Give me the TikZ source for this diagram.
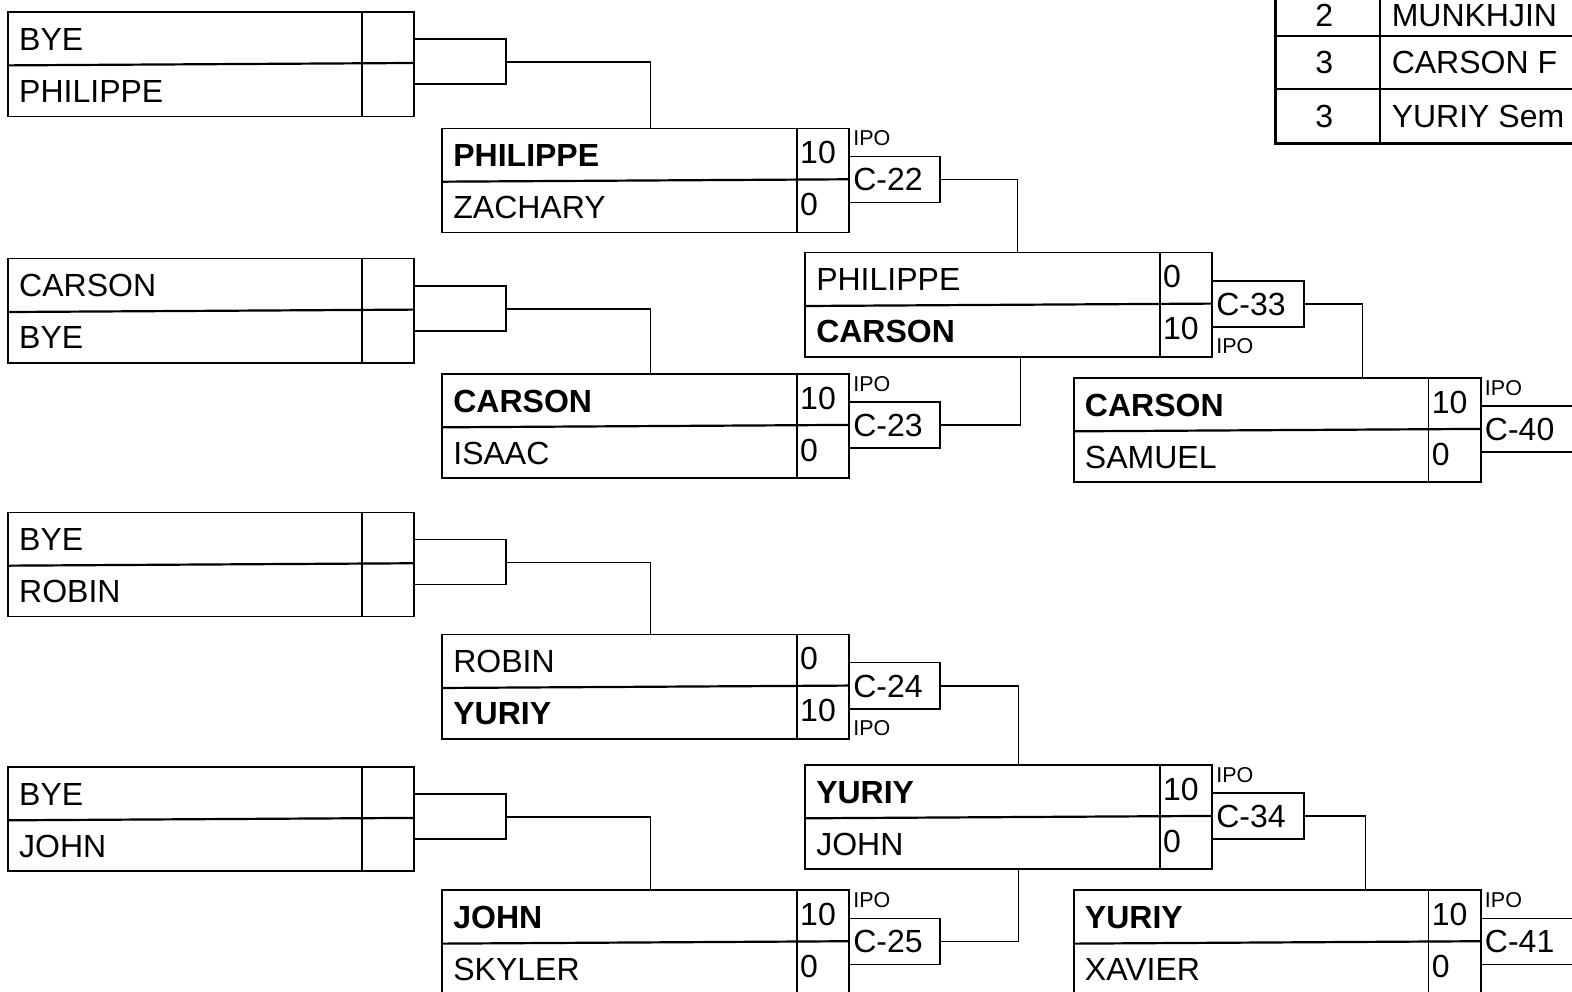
\documentclass[tikz,border=0pt]{standalone}
\usepackage{fontspec}
\setmainfont{Liberation Sans}
\usetikzlibrary{calc}
\newcommand\fsbig{\fontsize{32}{38}\selectfont}
\newcommand\fssmall{\fontsize{21.5}{25}\selectfont}
\tikzset{
  boxline/.style={line width=1.6pt},
  midline/.style={line width=2.2pt},
  conn/.style={line width=1.6pt},
  mbox/.style={draw, line width=1.6pt, minimum height=104.3pt, inner sep=0pt, outer sep=0pt, anchor=north west},
  lbox/.style={draw, line width=1.6pt, minimum width=91pt, minimum height=46pt, inner sep=0pt, outer sep=0pt, anchor=north west},
  pname/.style={font=\fsbig, inner sep=0pt, anchor=base west},
  pscore/.style={font=\fsbig, inner sep=0pt, anchor=base west},
  ipotext/.style={font=\fssmall, inner sep=0pt, anchor=base west},
  tnum/.style={font=\fsbig, inner sep=0pt, anchor=base},
}
\newcommand\matchgrid[8]{%
  \node[mbox, minimum width=#8pt] (#1) at (#2,#3) {};
  \draw[midline] ($(#1.west)+(0,1.2)$) -- ($(#1.east)+(0,-1.2)$);
  \draw[boxline] ($(#1.north east)+(-52,0)$) -- ($(#1.south east)+(-52,0)$);
  \node[pname] (#1-a) at ($(#1.north west)+(11,38)$) {#4};
  \node[pname] (#1-b) at ($(#1.north west)+(11,90)$) {#6};
  \node[pscore] (#1-as) at ($(#1.north east)+(-49,35)$) {#5};
  \node[pscore] (#1-bs) at ($(#1.north east)+(-49,87)$) {#7};
}
\newcommand\mlabel[4]{% match, label node, text, width
  \node[lbox, minimum width=#4pt] (#2) at ($(#1.north east)+(0,28)$) {};
  \node[pname] (#2-t) at ($(#1.north east)+(4,62.5)$) {#3};
}
\newcommand\ipoabove[2]{\node[ipotext] (#2) at ($(#1.north east)+(4,17)$) {IPO};}
\newcommand\ipobelow[2]{\node[ipotext] (#2) at ($(#1.north east)+(4,101)$) {IPO};}
\begin{document}
\begin{tikzpicture}[x=1.00255pt,y=-1.00255pt]
\useasboundingbox (0,0) rectangle (1568,988.5);
\clip (0,0) rectangle (1568,988.5);
\fill[white] (0,0) rectangle (1568,988.5);

% Round 1
\matchgrid{A}{8}{12}{BYE}{}{PHILIPPE}{}{406}
\matchgrid{B}{8}{258}{CARSON}{}{BYE}{}{406}
\matchgrid{C}{8}{511}{BYE}{}{ROBIN}{}{406}
\matchgrid{D}{8}{765}{BYE}{}{JOHN}{}{406}

% Round 2
\matchgrid{E}{441}{128}{\textbf{PHILIPPE}}{10}{ZACHARY}{0}{407}
\matchgrid{F}{441}{373}{\textbf{CARSON}}{10}{ISAAC}{0}{407}
\matchgrid{G}{441}{633}{ROBIN}{0}{\textbf{YURIY}}{10}{407}
\matchgrid{H}{441}{888}{\textbf{JOHN}}{10}{SKYLER}{0}{407}
\mlabel{E}{C22}{C-22}{91}\ipoabove{E}{ipoE}
\mlabel{F}{C23}{C-23}{91}\ipoabove{F}{ipoF}
\mlabel{G}{C24}{C-24}{91}\ipobelow{G}{ipoG}
\mlabel{H}{C25}{C-25}{91}\ipoabove{H}{ipoH}

% Round 3
\matchgrid{I}{803}{252}{PHILIPPE}{0}{\textbf{CARSON}}{10}{407}
\matchgrid{J}{803}{763}{\textbf{YURIY}}{10}{JOHN}{0}{407}
\mlabel{I}{C33}{C-33}{92}\ipobelow{I}{ipoI}
\mlabel{J}{C34}{C-34}{92}\ipoabove{J}{ipoJ}

% Round 4
\matchgrid{K}{1071}{377}{\textbf{CARSON}}{10}{SAMUEL}{0}{407}
\matchgrid{L}{1071}{888}{\textbf{YURIY}}{10}{XAVIER}{0}{407}
\mlabel{K}{C40}{C-40}{140}\ipoabove{K}{ipoK}
\mlabel{L}{C41}{C-41}{140}\ipoabove{L}{ipoL}

% Round 1 brackets
\foreach \m/\n in {A/E,B/F,C/G,D/H}{
  \draw[conn] ($(\m.north east)+(0,27)$) -- ++(92,0) -- ++(0,45) -- ++(-92,0);
  \draw[conn] ($(\m.north east)+(92,50)$) -| ($(\n.north west)+(208,0)$);
}

% Round 2 -> 3
\draw[conn] (C22.east) -| ($(I.north west)+(212,0)$);
\draw[conn] (C23.east) -| ($(I.south west)+(215,0)$);
\draw[conn] (C24.east) -| ($(J.north west)+(213,0)$);
\draw[conn] (C25.east) -| ($(J.south west)+(213,0)$);

% Round 3 -> 4
\draw[conn] (C33.east) -| ($(K.north west)+(288,0)$);
\draw[conn] (C34.east) -| ($(L.north west)+(291,0)$);

% Table (top right)
\draw[line width=2pt] (1272,36) -- (1610,36);
\draw[line width=2pt] (1272,89) -- (1610,89);
\draw[line width=2pt] (1376,-20) -- (1376,143);
\draw[line width=3pt] (1272,-20) -- (1272,143) -- (1610,143);
\node[tnum] (t1n) at (1321,26.5) {2};
\node[tnum] (t2n) at (1321,73.5) {3};
\node[tnum] (t3n) at (1321,127.5) {3};
\node[pname] (t1) at (1388,26.5) {MUNKHJIN};
\node[pname] (t2) at (1388,73.5) {CARSON F};
\node[pname] (t3) at (1388,127.5) {YURIY Sem};
\end{tikzpicture}
\end{document}
